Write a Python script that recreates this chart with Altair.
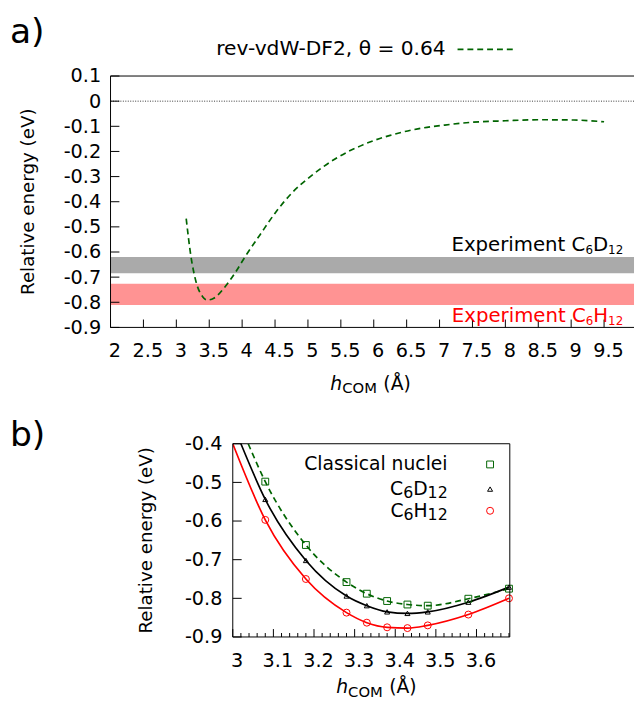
import altair as alt
import pandas as pd

# ---------------- panel a) data ----------------
top_h = [3.15, 3.22, 3.30, 3.40, 3.47, 3.57, 3.72, 3.90, 4.04, 4.27, 4.53, 4.76,
         5.04, 5.43, 5.84, 6.25, 6.67, 7.08, 7.49, 8.00, 8.52, 9.04, 9.50]
top_e = [-0.467, -0.614, -0.719, -0.778, -0.791, -0.784, -0.745, -0.680, -0.621,
         -0.532, -0.435, -0.364, -0.299, -0.227, -0.173, -0.136, -0.110, -0.095,
         -0.084, -0.078, -0.074, -0.075, -0.082]
band_lo = [-0.685, -0.811]
band_hi = [-0.620, -0.726]
band_colors = ["#aaaaaa", "#ff9393"]
band_labels = [[("Experiment C", 0), ("6", 1), ("D", 0), ("12", 1)],
               [("Experiment C", 0), ("6", 1), ("H", 0), ("12", 1)]]
top_xticks = [2, 2.5, 3, 3.5, 4, 4.5, 5, 5.5, 6, 6.5, 7, 7.5, 8, 8.5, 9, 9.5]
top_yticks = [0.1, 0, -0.1, -0.2, -0.3, -0.4, -0.5, -0.6, -0.7, -0.8, -0.9]
top_legend = "rev-vdW-DF2, θ = 0.64"

# ---------------- panel b) data ----------------
pts_h = [3.08, 3.18, 3.28, 3.33, 3.38, 3.43, 3.48, 3.58, 3.68]
classical = [-0.498, -0.662, -0.758, -0.788, -0.807, -0.816, -0.819, -0.801, -0.775]
c6d12 = [-0.544, -0.702, -0.794, -0.819, -0.835, -0.839, -0.835, -0.810, -0.771]
c6h12 = [-0.597, -0.750, -0.837, -0.863, -0.875, -0.877, -0.870, -0.842, -0.800]
fit_start_h = [3.038, 3.020, 3.000]
fit_start_e = [-0.40, -0.40, -0.40]
series_labels = [[("Classical nuclei", 0)],
                 [("C", 0), ("6", 1), ("D", 0), ("12", 1)],
                 [("C", 0), ("6", 1), ("H", 0), ("12", 1)]]
bot_xticks = [3.0, 3.1, 3.2, 3.3, 3.4, 3.5, 3.6]
bot_xminor = [3.02, 3.04, 3.06, 3.08, 3.12, 3.14, 3.16, 3.18, 3.22, 3.24, 3.26, 3.28,
              3.32, 3.34, 3.36, 3.38, 3.42, 3.44, 3.46, 3.48, 3.52, 3.54, 3.56, 3.58,
              3.62, 3.64, 3.66, 3.68]
bot_yticks = [-0.4, -0.5, -0.6, -0.7, -0.8, -0.9]

# ---------------- styling ----------------
FONT = "DejaVu Sans"
FS = 19
TICK_FS = 19.5
GREEN = "#006400"
RED = "#ff0000"
W1, H1 = 531, 255
W2, H2 = 281, 196

EM = {"E": 0.632, "x": 0.592, "p": 0.635, "e": 0.615, "r": 0.411, "i": 0.278,
      "m": 0.974, "n": 0.634, "t": 0.392, " ": 0.318, "C": 0.698, "D": 0.770,
      "H": 0.752, "l": 0.278, "a": 0.613, "s": 0.521, "c": 0.550, "u": 0.634,
      "O": 0.787, "M": 0.863, "h": 0.634}
for d in "0123456789":
    EM[d] = 0.636


def tw(s, size):
    return sum(EM.get(c, 0.6) for c in s) * size


xs1 = alt.Scale(domain=[2, 9.955], nice=False, zero=False)
ys1 = alt.Scale(domain=[-0.9, 0.1], nice=False, zero=False)
xs2 = alt.Scale(domain=[3.0, 3.682], nice=False, zero=False)
ys2 = alt.Scale(domain=[-0.9, -0.4], nice=False, zero=False)

LBL_Y = "datum.value == 0 ? '0' : (datum.value < 0 ? '-' : '') + format(abs(datum.value), '.1f')"
LBL_X = "format(datum.value, '.1~f')"


def xaxis(vals, pad):
    return alt.Axis(values=vals, labelExpr=LBL_X, orient="bottom", ticks=False, domain=False,
                    grid=False, labelPadding=pad, title=None, labelFont=FONT,
                    labelFontSize=TICK_FS, labelColor="black", labelFlush=False,
                    labelOverlap=False, labelOffset=4)


def yaxis(vals, pad):
    return alt.Axis(values=vals, labelExpr=LBL_Y, orient="left", ticks=False, domain=False,
                    grid=False, labelPadding=pad, title=None, labelFont=FONT,
                    labelFontSize=TICK_FS, labelColor="black", labelOverlap=False)


one = pd.DataFrame({"k": [0]})


def txt(s, x, y, size=FS, align="left", baseline="alphabetic", color="black",
        style="normal", angle=0):
    return alt.Chart(pd.DataFrame({"s": [s]})).mark_text(
        align=align, baseline=baseline, fontSize=size, font=FONT, color=color,
        fontStyle=style, angle=angle
    ).encode(text="s:N", x=alt.value(x), y=alt.value(y))


def rich(parts, x, y, size, sub, dy, align="left", color="black"):
    sizes = [sub if p[1] else size for p in parts]
    total = sum(tw(p[0], s) for p, s in zip(parts, sizes))
    x0 = x - total if align == "right" else x
    out = []
    for p, s in zip(parts, sizes):
        out.append(txt(p[0], x0, y + (dy if p[1] else 0), size=s, color=color))
        x0 += tw(p[0], s)
    return out


def frame(W, H, right=True):
    r = []
    base = alt.Chart(one).mark_rule(color="black", strokeWidth=1)
    r.append(base.encode(x=alt.value(0), x2=alt.value(W), y=alt.value(0)))
    r.append(base.encode(x=alt.value(0), x2=alt.value(W), y=alt.value(H)))
    r.append(base.encode(x=alt.value(0), y=alt.value(0), y2=alt.value(H)))
    if right:
        r.append(base.encode(x=alt.value(W), y=alt.value(0), y2=alt.value(H)))
    return r


def hcom(x, y):
    # "h_COM (Å)" axis title assembled from pieces (italic h, subscript COM)
    return [
        txt("h", x, y, style="italic"),
        txt("COM", x + 12, y + 4, size=15),
        txt("(Å)", x + 12 + tw("COM", 15) + 6.5, y),
    ]


# ---------------- panel a) ----------------
band_df = pd.DataFrame({"lo": band_lo, "hi": band_hi, "color": band_colors})
bands = alt.Chart(band_df).mark_rect().encode(
    x=alt.value(0), x2=alt.value(W1),
    y=alt.Y("lo:Q", scale=ys1, axis=None), y2="hi:Q",
    color=alt.Color("color:N", scale=None),
)
zero_line = alt.Chart(pd.DataFrame({"z": [0.0]})).mark_rule(
    color="black", strokeWidth=0.8, strokeDash=[1, 1.5]
).encode(y=alt.Y("z:Q", scale=ys1, axis=None), x=alt.value(0), x2=alt.value(W1))

curve = alt.Chart(pd.DataFrame({"h": top_h, "e": top_e})).mark_line(
    color=GREEN, strokeDash=[6, 4], strokeWidth=1.7, interpolate="monotone"
).encode(
    x=alt.X("h:Q", scale=xs1, axis=xaxis(top_xticks, 15)),
    y=alt.Y("e:Q", scale=ys1, axis=yaxis(top_yticks, 10)),
)
yt1 = alt.Chart(pd.DataFrame({"t": top_yticks})).mark_rule(color="black").encode(
    y=alt.Y("t:Q", scale=ys1, axis=None), x=alt.value(0), x2=alt.value(9))
xt1 = alt.Chart(pd.DataFrame({"t": top_xticks})).mark_rule(color="black").encode(
    x=alt.X("t:Q", scale=xs1, axis=None), y=alt.value(H1), y2=alt.value(H1 - 8))

top_layers = [bands, zero_line, curve, yt1, xt1] + frame(W1, H1, right=False)
top_layers += rich(band_labels[0], 520, 177, 20, 12, 4, align="right")
top_layers += rich(band_labels[1], 520, 249, 20, 12, 4, align="right", color=RED)
top_layers += [
    txt(top_legend, 340, -27, size=20.5, align="right", baseline="middle"),
    alt.Chart(one).mark_rule(color=GREEN, strokeDash=[6, 4], strokeWidth=1.7).encode(
        x=alt.value(352), x2=alt.value(408), y=alt.value(-27)),
    txt("a)", -102, -62, size=35, baseline="top"),
    txt("Relative energy (eV)", -84, 127.5, size=18.5, align="center", baseline="middle", angle=270),
] + hcom(223, 318)

top = alt.layer(*top_layers).resolve_axis(x="independent", y="independent").properties(
    width=W1, height=H1)

# ---------------- panel b) ----------------
series_vals = [classical, c6d12, c6h12]
series_col = [GREEN, "black", RED]
series_shape = ["square", "triangle-up", "circle"]
series_size = [48, 26, 50]

bot_layers = []
for i in range(3):
    df_fit = pd.DataFrame({"h": [fit_start_h[i]] + pts_h, "e": [fit_start_e[i]] + series_vals[i]})
    enc_x = alt.X("h:Q", scale=xs2, axis=xaxis(bot_xticks, 15) if i == 0 else None)
    enc_y = alt.Y("e:Q", scale=ys2, axis=yaxis(bot_yticks, 11) if i == 0 else None)
    mk = dict(color=series_col[i], strokeWidth=1.7, interpolate="monotone", clip=True)
    if i == 0:
        mk["strokeDash"] = [6, 4]
    bot_layers.append(alt.Chart(df_fit).mark_line(**mk).encode(x=enc_x, y=enc_y))
for i in range(3):
    df_pts = pd.DataFrame({"h": pts_h, "e": series_vals[i]})
    bot_layers.append(alt.Chart(df_pts).mark_point(
        shape=series_shape[i], filled=False, size=series_size[i], color=series_col[i],
        strokeWidth=1, opacity=1).encode(
        x=alt.X("h:Q", scale=xs2, axis=None), y=alt.Y("e:Q", scale=ys2, axis=None)))

yt2 = alt.Chart(pd.DataFrame({"t": bot_yticks})).mark_rule(color="black").encode(
    y=alt.Y("t:Q", scale=ys2, axis=None), x=alt.value(0), x2=alt.value(9))
xt2 = alt.Chart(pd.DataFrame({"t": bot_xticks})).mark_rule(color="black").encode(
    x=alt.X("t:Q", scale=xs2, axis=None), y=alt.value(H2), y2=alt.value(H2 - 8))
xm2 = alt.Chart(pd.DataFrame({"t": bot_xminor})).mark_rule(color="black").encode(
    x=alt.X("t:Q", scale=xs2, axis=None), y=alt.value(H2), y2=alt.value(H2 - 4))
bot_layers += [yt2, xt2, xm2] + frame(W2, H2)

leg_y = [27, 52, 74]
for i in range(3):
    bot_layers += rich(series_labels[i], 218, leg_y[i], FS, 16, 3, align="right")
    bot_layers.append(alt.Chart(one).mark_point(
        shape=series_shape[i], filled=False, size=series_size[i], color=series_col[i],
        strokeWidth=1, opacity=1).encode(x=alt.value(261), y=alt.value(leg_y[i] - 6)))
bot_layers.append(txt("Relative energy (eV)", -88, 98, size=18.5, align="center",
                      baseline="middle", angle=270))
bot_layers += hcom(105, 253)

bottom = alt.layer(*bot_layers).resolve_axis(x="independent", y="independent").properties(
    width=W2, height=H2)

spacer = txt("b)", -102, -26, size=35, baseline="top").properties(width=27, height=H2)

chart = alt.vconcat(
    top,
    alt.hconcat(spacer, bottom, spacing=0),
    spacing=22,
).properties(
    padding={"left": 2, "top": 2, "right": 0, "bottom": 0}
).configure(font=FONT).configure_view(stroke=None)

chart.save("out.html", embed_options={"renderer": "svg", "actions": False})
